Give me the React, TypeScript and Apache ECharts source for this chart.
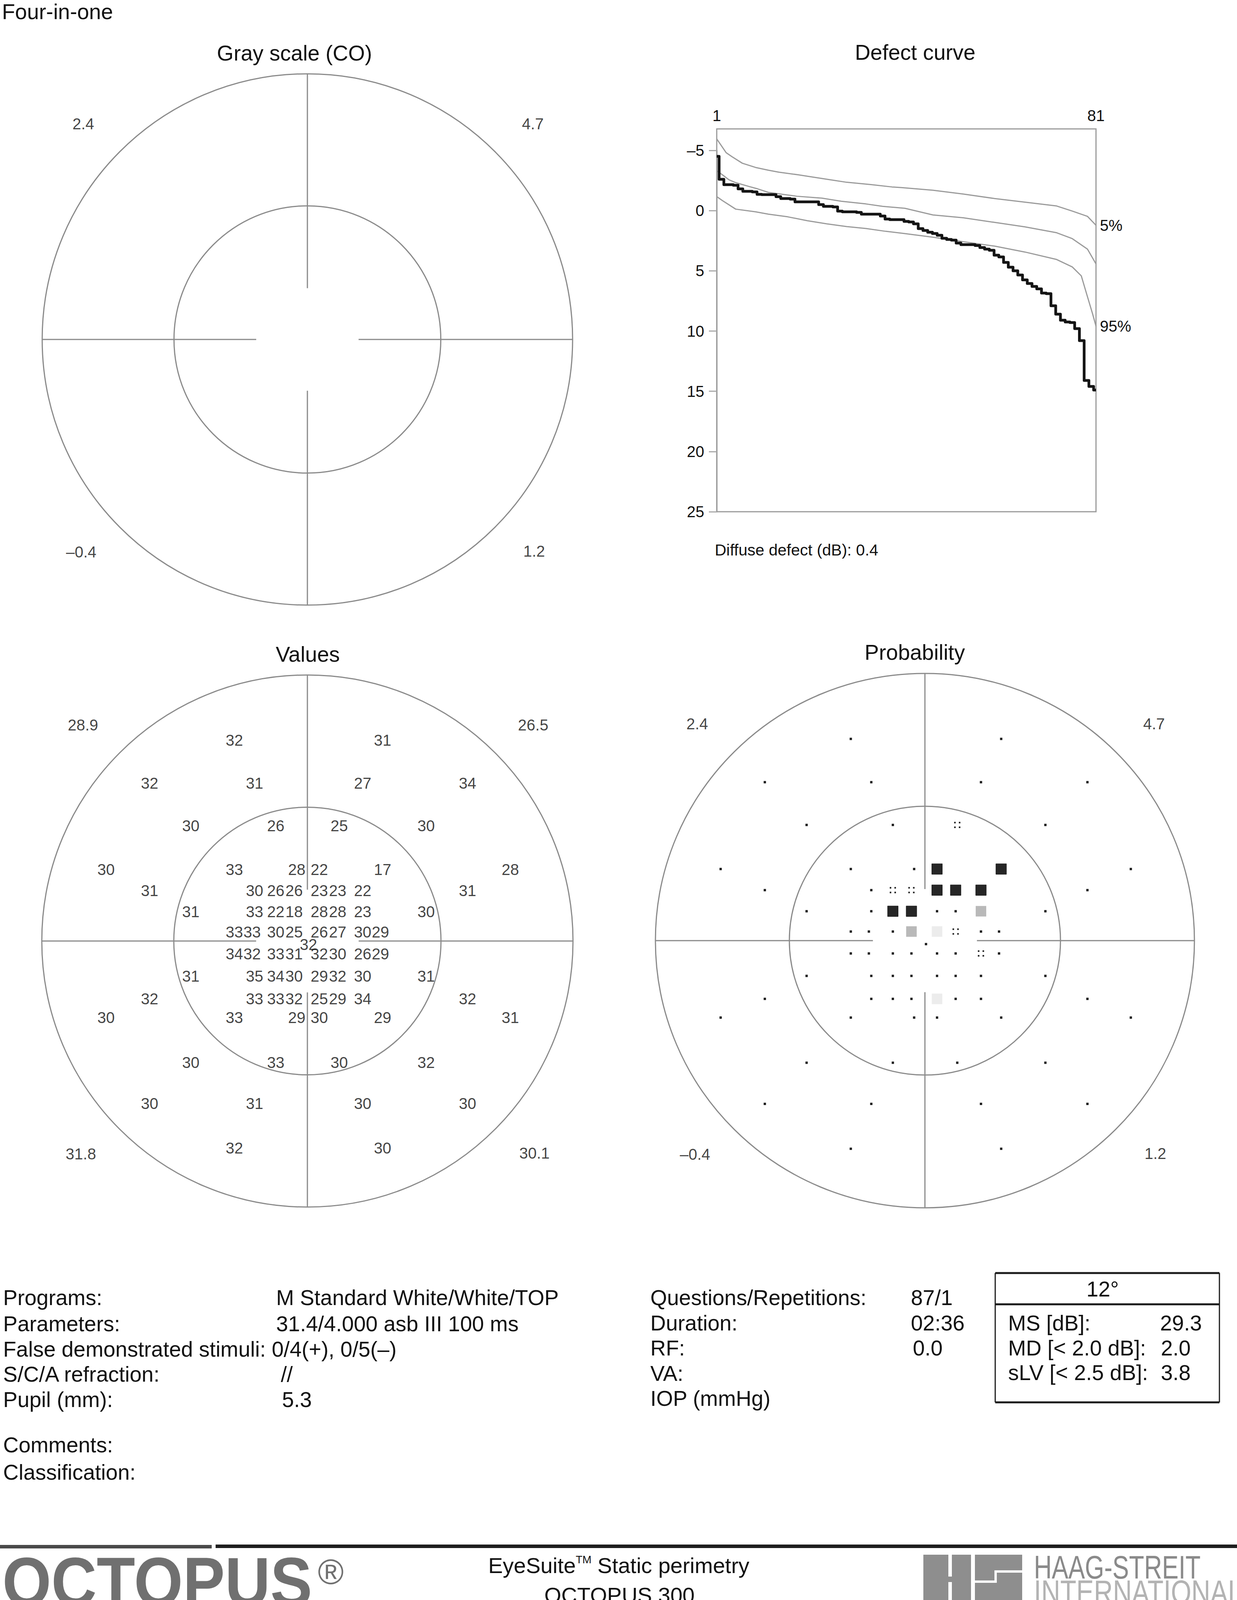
import React, { useEffect, useRef } from "react";
import * as echarts from "echarts";

const FONT = "'Liberation Sans', Arial, Helvetica, sans-serif";

// ---------- Visual field test points (units: outer circle radius = 10) ----------
const fieldX = [
  -2.75, 2.83,
  -5.94, -1.99, 2.08, 6.03,
  -4.39, -1.19, 1.2, 4.47,
  -7.58, -2.75, -0.4, 0.45, 2.83, 7.64,
  -5.94, -1.99, -1.19, -0.5, 0.45, 1.14, 2.08, 6.03,
  -4.39, -1.99, -1.19, -0.5, 0.45, 1.14, 2.08, 4.47,
  -2.75, -2.08, -1.19, -0.5, 0.45, 1.14, 2.08, 2.75,
  0.04,
  -2.75, -2.08, -1.19, -0.5, 0.45, 1.14, 2.08, 2.75,
  -4.39, -1.99, -1.19, -0.5, 0.45, 1.14, 2.08, 4.47,
  -5.94, -1.99, -1.19, -0.5, 0.45, 1.14, 2.08, 6.03,
  -7.58, -2.75, -0.4, 0.45, 2.83, 7.64,
  -4.39, -1.19, 1.2, 4.47,
  -5.94, -1.99, 2.08, 6.03,
  -2.75, 2.83,
];
const fieldY = [
  7.55, 7.55,
  5.93, 5.93, 5.93, 5.93,
  4.33, 4.33, 4.33, 4.33,
  2.68, 2.68, 2.68, 2.68, 2.68, 2.68,
  1.89, 1.89, 1.89, 1.89, 1.89, 1.89, 1.89, 1.89,
  1.1, 1.1, 1.1, 1.1, 1.1, 1.1, 1.1, 1.1,
  0.34, 0.34, 0.34, 0.34, 0.34, 0.34, 0.34, 0.34,
  -0.13,
  -0.48, -0.48, -0.48, -0.48, -0.48, -0.48, -0.48, -0.48,
  -1.32, -1.32, -1.32, -1.32, -1.32, -1.32, -1.32, -1.32,
  -2.18, -2.18, -2.18, -2.18, -2.18, -2.18, -2.18, -2.18,
  -2.88, -2.88, -2.88, -2.88, -2.88, -2.88,
  -4.57, -4.57, -4.57, -4.57,
  -6.11, -6.11, -6.11, -6.11,
  -7.79, -7.79,
];
const sensitivity = [
  32, 31,
  32, 31, 27, 34,
  30, 26, 25, 30,
  30, 33, 28, 22, 17, 28,
  31, 30, 26, 26, 23, 23, 22, 31,
  31, 33, 22, 18, 28, 28, 23, 30,
  33, 33, 30, 25, 26, 27, 30, 29,
  32,
  34, 32, 33, 31, 32, 30, 26, 29,
  31, 35, 34, 30, 29, 32, 30, 31,
  32, 33, 33, 32, 25, 29, 34, 32,
  30, 33, 29, 30, 29, 31,
  30, 33, 30, 32,
  30, 31, 30, 30,
  32, 30,
];
// 0 = normal dot, 1 = p<5% (four dots), 2 = faint square, 3 = gray square, 4 = black square
const probLevel = [
  0, 0,
  0, 0, 0, 0,
  0, 0, 1, 0,
  0, 0, 0, 4, 4, 0,
  0, 0, 1, 1, 4, 4, 4, 0,
  0, 0, 4, 4, 0, 0, 3, 0,
  0, 0, 0, 3, 2, 1, 0, 0,
  0,
  0, 0, 0, 0, 0, 0, 1, 0,
  0, 0, 0, 0, 0, 0, 0, 0,
  0, 0, 0, 0, 2, 0, 0, 0,
  0, 0, 0, 0, 0, 0,
  0, 0, 0, 0,
  0, 0, 0, 0,
  0, 0,
];

// Quadrant mean values (TL, TR, BL, BR)
const quadX = [-8.45, 8.5, -8.53, 8.55];
const quadY = [8.12, 8.12, -8.0, -7.97];
const grayQuadrant = [2.4, 4.7, -0.4, 1.2];
const valuesQuadrant = [28.9, 26.5, 31.8, 30.1];
const probQuadrant = [2.4, 4.7, -0.4, 1.2];

// ---------- Defect curve (rank 1..81, dB) ----------
const defectCurve = [
  -4.5, -2.6, -2.15, -2.15, -2.1, -1.8, -1.6, -1.6, -1.55, -1.35,
  -1.32, -1.32, -1.32, -1.15, -1.0, -1.0, -0.95, -0.72, -0.72, -0.72,
  -0.72, -0.72, -0.5, -0.35, -0.35, -0.3, 0.05, 0.1, 0.1, 0.1,
  0.15, 0.3, 0.3, 0.3, 0.3, 0.45, 0.7, 0.75, 0.75, 0.75,
  0.9, 0.95, 1.1, 1.5, 1.65, 1.8, 1.9, 2.05, 2.3, 2.4,
  2.45, 2.7, 2.83, 2.83, 2.83, 2.9, 3.07, 3.2, 3.3, 3.7,
  3.85, 4.3, 4.7, 5.0, 5.35, 5.75, 6.05, 6.3, 6.5, 6.85,
  6.9, 7.9, 8.6, 9.1, 9.25, 9.3, 9.8, 10.8, 14.1, 14.6,
  14.9,
];
const upperBand = [
  [1, -5.95], [3, -4.8], [4.2, -4.48], [6.4, -3.93], [9.2, -3.58], [11.9, -3.35],
  [14.1, -3.19], [18.2, -2.97], [21.5, -2.77], [25.1, -2.55], [28.4, -2.35],
  [33.5, -2.16], [38, -1.96], [40, -1.91], [46.6, -1.69], [53, -1.37], [59.6, -1.0],
  [66, -0.7], [72.7, -0.38], [76, 0.04], [79.2, 0.48], [81, 1.22],
];
const medianBand = [
  [1, -3.3], [2.2, -2.97], [3.6, -2.55], [5, -2.32], [7.8, -2.0], [9.65, -1.8],
  [11.9, -1.51], [14.9, -1.35], [17.9, -1.19], [23.2, -1.03], [27.3, -0.77],
  [32.5, -0.55], [36, -0.35], [40.7, -0.19], [46.6, 0.36], [53, 0.6], [59.6, 0.98],
  [66, 1.35], [72.7, 1.84], [76, 2.33], [79.2, 3.2], [81, 4.43],
];
const lowerBand = [
  [1, -1.16], [2.2, -0.83], [5, -0.12], [9.2, 0.1], [11.9, 0.3], [16, 0.52],
  [20.1, 0.84], [24.2, 1.1], [28.4, 1.33], [32.5, 1.49], [36.6, 1.72], [40.7, 1.91],
  [46.6, 2.21], [53, 2.58], [59.6, 2.95], [66, 3.44], [72.7, 4.06], [76, 4.68],
  [77.9, 5.42], [79.2, 7.15], [80.3, 8.6], [81, 9.6],
];

// ---------- Info texts ----------
const infoLeftLabels = [
  "Programs:",
  "Parameters:",
  "False demonstrated stimuli: 0/4(+), 0/5(–)",
  "S/C/A refraction:",
  "Pupil (mm):",
];
const infoLeftValues = ["M Standard White/White/TOP", "31.4/4.000 asb III 100 ms", "", "//", "5.3"];
const infoRightLabels = ["Questions/Repetitions:", "Duration:", "RF:", "VA:", "IOP (mmHg)"];
const infoRightValues = ["87/1", "02:36", "0.0", "", ""];
const statLabels = ["MS [dB]:", "MD [< 2.0 dB]:", "sLV [< 2.5 dB]:"];
const statValues = ["29.3", "2.0", "3.8"];

// ---------- layout ----------
const PLOTS = [
  { cx: 787, cy: 869, rx: 679, ry: 680 },
  { cx: 787, cy: 2409, rx: 680, ry: 681 },
  { cx: 2368, cy: 2408, rx: 690, ry: 684 },
];
const OUTER_RADIUS = 10;
const INNER_RADIUS = 5.03;
const CROSS_GAP = 1.93;

const fmtDash = (v: number) => (v < 0 ? "–" + Math.abs(v).toFixed(1) : v.toFixed(1));

function txt(text: string, x: number, y: number, size: number, opts: any = {}) {
  const align = opts.align || "left";
  return {
    type: "text",
    x,
    y,
    scaleX: opts.scaleX || 1,
    silent: true,
    style: {
      text,
      fontSize: size,
      fontFamily: FONT,
      fontWeight: opts.weight || "normal",
      fill: opts.fill || "#111",
      align,
      textAlign: align,
      verticalAlign: "middle",
      textVerticalAlign: "middle",
    },
  };
}

function frameRender(_params: any, api: any) {
  const [x, y] = api.coord([0, 0]);
  const [Rx, Ry] = api.size([OUTER_RADIUS, OUTER_RADIUS]);
  const [rx, ry] = api.size([INNER_RADIUS, INNER_RADIUS]);
  const [gx, gy] = api.size([CROSS_GAP, CROSS_GAP]);
  const st = { stroke: "#8a8a8a", lineWidth: 3, fill: "none" };
  return {
    type: "group",
    children: [
      { type: "ellipse", shape: { cx: x, cy: y, rx: Rx, ry: Ry }, style: st },
      { type: "ellipse", shape: { cx: x, cy: y, rx, ry }, style: st },
      { type: "line", shape: { x1: x, y1: y - Ry, x2: x, y2: y - gy }, style: st },
      { type: "line", shape: { x1: x, y1: y + gy, x2: x, y2: y + Ry }, style: st },
      { type: "line", shape: { x1: x - Rx, y1: y, x2: x - gx, y2: y }, style: st },
      { type: "line", shape: { x1: x + gx, y1: y, x2: x + Rx, y2: y }, style: st },
    ],
  };
}

function probRender(_params: any, api: any) {
  const [x, y] = api.coord([api.value(0), api.value(1)]);
  const lvl = api.value(2);
  if (lvl === 0) {
    return { type: "rect", shape: { x: x - 3, y: y - 3, width: 6, height: 6 }, style: { fill: "#1e1e1e" } };
  }
  if (lvl === 1) {
    const d = [[-8, -8], [4, -8], [-8, 4], [4, 4]];
    return {
      type: "group",
      children: d.map(([dx, dy]) => ({
        type: "rect",
        shape: { x: x + dx, y: y + dy, width: 4, height: 4 },
        style: { fill: "#1e1e1e" },
      })),
    };
  }
  const fill = lvl === 2 ? "#ececec" : lvl === 3 ? "#b9b9b9" : "#262626";
  return {
    type: "rect",
    shape: { x: x - 13.5, y: y - 13.5, width: 27, height: 27 },
    style: { fill, stroke: lvl === 4 ? "#111" : "none", lineWidth: 1 },
  };
}

export default function App() {
  const ref = useRef<HTMLDivElement>(null);

  useEffect(() => {
    document.body.style.margin = "0";
    if (!ref.current) return;
    const chart = echarts.init(ref.current, null, { renderer: "svg" });

    const grids: any[] = PLOTS.map((p) => ({
      left: p.cx - p.rx,
      top: p.cy - p.ry,
      width: 2 * p.rx,
      height: 2 * p.ry,
      show: false,
    }));
    // defect curve box and its axis grid
    grids.push({ left: 1835, top: 330, width: 971, height: 980, show: true, borderColor: "#9a9a9a", borderWidth: 3, backgroundColor: "transparent" });
    grids.push({ left: 1835, top: 385, width: 971, height: 925, show: false });

    const xAxes: any[] = PLOTS.map((_, i) => ({ type: "value", gridIndex: i, min: -10, max: 10, show: false }));
    const yAxes: any[] = PLOTS.map((_, i) => ({ type: "value", gridIndex: i, min: -10, max: 10, show: false }));
    xAxes.push({
      type: "value",
      gridIndex: 3,
      min: 1,
      max: 81,
      interval: 80,
      position: "top",
      axisLine: { show: false },
      axisTick: { show: false },
      splitLine: { show: false },
      axisLabel: { fontSize: 40, color: "#111", margin: 14, fontFamily: FONT, showMinLabel: true, showMaxLabel: true },
    });
    yAxes.push({ type: "value", gridIndex: 3, min: -6.78, max: 25, inverse: true, show: false });
    xAxes.push({ type: "value", gridIndex: 4, min: 1, max: 81, show: false });
    yAxes.push({
      type: "value",
      gridIndex: 4,
      min: -5,
      max: 25,
      interval: 5,
      inverse: true,
      axisLine: { show: true, lineStyle: { color: "#9a9a9a", width: 3 } },
      axisTick: { show: true, length: 20, lineStyle: { color: "#aaaaaa", width: 3 } },
      splitLine: { show: false },
      axisLabel: {
        fontSize: 40,
        color: "#111",
        margin: 32,
        fontFamily: FONT,
        formatter: (v: number) => (v < 0 ? "–" + Math.abs(v) : String(v)),
      },
    });

    const quadSets = [grayQuadrant, valuesQuadrant, probQuadrant];
    const series: any[] = [];
    PLOTS.forEach((_, i) => {
      series.push({
        type: "custom",
        xAxisIndex: i,
        yAxisIndex: i,
        data: [[0, 0]],
        silent: true,
        renderItem: frameRender,
        z: 1,
      });
      series.push({
        type: "scatter",
        xAxisIndex: i,
        yAxisIndex: i,
        symbolSize: 1,
        silent: true,
        itemStyle: { color: "rgba(0,0,0,0)" },
        data: quadX.map((x, k) => [x, quadY[k], quadSets[i][k]]),
        label: {
          show: true,
          position: "inside",
          formatter: (p: any) => fmtDash(p.value[2]),
          fontSize: 40,
          color: "#111",
          fontFamily: FONT,
        },
      });
    });
    series.push({
      type: "scatter",
      xAxisIndex: 1,
      yAxisIndex: 1,
      symbolSize: 1,
      silent: true,
      itemStyle: { color: "rgba(0,0,0,0)" },
      data: fieldX.map((x, k) => [x, fieldY[k], sensitivity[k]]),
      label: {
        show: true,
        position: "inside",
        formatter: (p: any) => String(p.value[2]),
        fontSize: 40,
        color: "#111",
        fontFamily: FONT,
      },
      z: 3,
    });
    series.push({
      type: "custom",
      xAxisIndex: 2,
      yAxisIndex: 2,
      silent: true,
      data: fieldX.map((x, k) => [x, fieldY[k], probLevel[k]]),
      renderItem: probRender,
      z: 3,
    });
    const band = (data: number[][], label: string) => ({
      type: "line",
      xAxisIndex: 3,
      yAxisIndex: 3,
      data,
      symbol: "none",
      silent: true,
      lineStyle: { color: "#9a9a9a", width: 3 },
      endLabel: label
        ? { show: true, formatter: label, fontSize: 40, color: "#111", fontFamily: FONT, distance: 10 }
        : { show: false },
      z: 2,
    });
    series.push(band(upperBand, "5%"));
    series.push(band(medianBand, ""));
    series.push(band(lowerBand, "95%"));
    series.push({
      type: "line",
      xAxisIndex: 3,
      yAxisIndex: 3,
      data: defectCurve.map((v, i) => [i + 1, v]),
      symbol: "none",
      silent: true,
      step: "middle",
      lineStyle: { color: "#141414", width: 7, join: "round" },
      z: 4,
    });

    const graphics: any[] = [];
    graphics.push(txt("Four-in-one", 5, 30, 55));
    graphics.push(txt("Gray scale (CO)", 754, 136, 55, { align: "center" }));
    graphics.push(txt("Defect curve", 2343, 134, 55, { align: "center" }));
    graphics.push(txt("Values", 788, 1675, 55, { align: "center" }));
    graphics.push(txt("Probability", 2342, 1670, 55, { align: "center" }));
    graphics.push(txt("Diffuse defect (dB): 0.4", 1830, 1408, 41));

    const leftY = [3322, 3389, 3454, 3518, 3583];
    const leftValX = [707, 707, 707, 719, 722];
    infoLeftLabels.forEach((t, i) => graphics.push(txt(t, 8, leftY[i], 55)));
    infoLeftValues.forEach((t, i) => t && graphics.push(txt(t, leftValX[i], leftY[i], 55)));
    graphics.push(txt("Comments:", 8, 3699, 55));
    graphics.push(txt("Classification:", 8, 3769, 55));

    const rightY = [3322, 3387, 3451, 3516, 3580];
    const rightValX = [2332, 2332, 2337, 2332, 2332];
    infoRightLabels.forEach((t, i) => graphics.push(txt(t, 1665, rightY[i], 55)));
    infoRightValues.forEach((t, i) => t && graphics.push(txt(t, rightValX[i], rightY[i], 55)));

    // stats box
    const bx0 = 2548, bx1 = 3122, by0 = 3259, byd = 3339, by1 = 3590;
    const boxLine = (x1: number, y1: number, x2: number, y2: number, w: number) => ({
      type: "line",
      silent: true,
      shape: { x1, y1, x2, y2 },
      style: { stroke: "#1a1a1a", lineWidth: w },
    });
    graphics.push(boxLine(bx0, by0, bx1, by0, 5));
    graphics.push(boxLine(bx0, byd, bx1, byd, 5));
    graphics.push(boxLine(bx0, by1, bx1, by1, 5));
    graphics.push(boxLine(bx0, by0, bx0, by1, 3));
    graphics.push(boxLine(bx1, by0, bx1, by1, 3));
    graphics.push(txt("12°", 2823, 3300, 55, { align: "center" }));
    const statY = [3387, 3451, 3514];
    const statValX = [2970, 2972, 2972];
    statLabels.forEach((t, i) => graphics.push(txt(t, 2581, statY[i], 55)));
    statValues.forEach((t, i) => graphics.push(txt(t, statValX[i], statY[i], 55)));

    // footer
    graphics.push({ type: "rect", silent: true, shape: { x: 0, y: 3955, width: 542, height: 9 }, style: { fill: "#4a4a4a" } });
    graphics.push({ type: "rect", silent: true, shape: { x: 552, y: 3954, width: 2615, height: 9 }, style: { fill: "#1e1e1e" } });
    graphics.push(txt("OCTOPUS", 6, 4049, 176, { weight: "bold", fill: "#707070", scaleX: 0.915 }));
    graphics.push(txt("®", 847, 4024, 90, { align: "center", fill: "#707070" }));
    graphics.push(txt("EyeSuite", 1250, 4007, 56));
    graphics.push(txt("TM", 1474, 3992, 28));
    graphics.push(txt(" Static perimetry", 1514, 4007, 56));
    graphics.push(txt("OCTOPUS 300", 1586, 4083, 56, { align: "center" }));
    // Haag-Streit mark
    const lx = 2364, ly = 3980;
    graphics.push({ type: "rect", silent: true, shape: { x: lx, y: ly, width: 253, height: 125 }, style: { fill: "#8e8e8e" } });
    const slit = (x: number, y: number, w: number, h: number) => ({
      type: "rect",
      silent: true,
      shape: { x: lx + x, y: ly + y, width: w, height: h },
      style: { fill: "#ffffff" },
    });
    graphics.push(slit(64, 0, 9, 56));
    graphics.push(slit(64, 70, 9, 55));
    graphics.push(slit(122, 0, 10, 125));
    graphics.push(slit(182, 40, 71, 6));
    graphics.push(slit(182, 40, 6, 32));
    graphics.push(slit(132, 66, 56, 6));
    graphics.push(txt("HAAG-STREIT", 2647, 4012, 84, { scaleX: 0.756, fill: "#8a8a8a" }));
    graphics.push(txt("INTERNATIONAL", 2647, 4076, 85, { scaleX: 0.793, fill: "#b3b3b3" }));

    chart.setOption({
      animation: false,
      backgroundColor: "#ffffff",
      textStyle: { fontFamily: FONT },
      grid: grids,
      xAxis: xAxes,
      yAxis: yAxes,
      series,
      graphic: { elements: graphics },
    });

    return () => chart.dispose();
  }, []);

  return <div ref={ref} style={{ width: 3167, height: 4117 }} />;
}
